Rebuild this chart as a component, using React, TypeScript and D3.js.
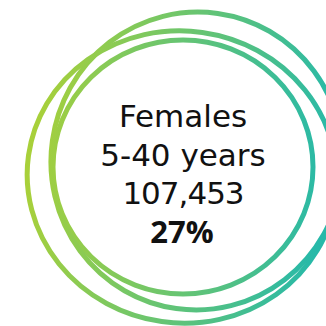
import React from "react";
import * as d3 from "d3";

const W = 326;
const H = 326;

// ring decoration: centres, radii, rotation (deg)
const ringCx = [183, 197, 182];
const ringCy = [167, 161, 177];
const ringRx = [130, 146, 155];
const ringRy = [127, 149, 146];
const ringRot = [0, 8, 8];

const labelLines = ["Females", "5-40 years", "107,453"];
const labelSpacing = [0, 0, -1];
const percentLabel = "27%";

const gradientStops = ["#a8d03a", "#27b9a9"];

export default function App() {
  const rings = d3.range(ringCx.length).map((i) => ({
    cx: ringCx[i],
    cy: ringCy[i],
    rx: ringRx[i],
    ry: ringRy[i],
    rot: ringRot[i],
  }));
  const lineY = d3.scaleLinear().domain([0, 3]).range([127, 243]);
  return (
    <svg
      width={W}
      height={H}
      style={{ position: "absolute", left: 0, top: 0, background: "#fff" }}
    >
      <defs>
        <linearGradient id="ringGrad" gradientUnits="userSpaceOnUse" x1={30} y1={0} x2={326} y2={0}>
          <stop offset="0%" stopColor={gradientStops[0]} />
          <stop offset="100%" stopColor={gradientStops[1]} />
        </linearGradient>
      </defs>
      {rings.map((r, i) => (
        <ellipse
          key={i}
          cx={r.cx}
          cy={r.cy}
          rx={r.rx}
          ry={r.ry}
          transform={`rotate(${r.rot} ${r.cx} ${r.cy})`}
          fill="none"
          stroke="url(#ringGrad)"
          strokeWidth={5}
        />
      ))}
      <g fontFamily="'DejaVu Sans', sans-serif" textAnchor="middle" fill="#111">
        {labelLines.map((t, i) => (
          <text key={t} x={183} y={lineY(i)} fontSize={31} letterSpacing={labelSpacing[i]}>
            {t}
          </text>
        ))}
        <text x={182} y={lineY(3)} fontSize={31} fontWeight="bold" fontFamily="'Open Sans', sans-serif">
          {percentLabel}
        </text>
      </g>
    </svg>
  );
}
